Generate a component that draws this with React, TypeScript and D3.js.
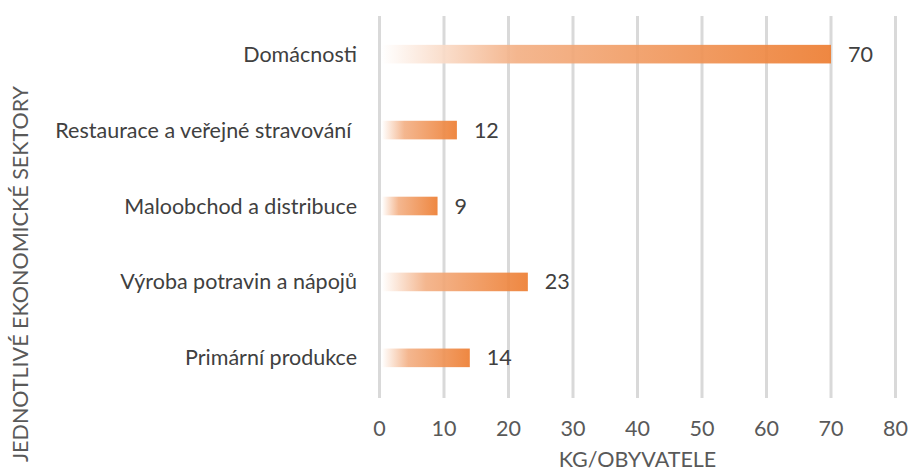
import React, { useEffect, useRef } from 'react';
import * as d3 from 'd3';

const categories = [
  'Domácnosti',
  'Restaurace a veřejné stravování ',
  'Maloobchod a distribuce',
  'Výroba potravin a nápojů',
  'Primární produkce',
];
const values = [70, 12, 9, 23, 14];
const xTicks = [0, 10, 20, 30, 40, 50, 60, 70, 80];
const xTitle = 'KG/OBYVATELE';
const yTitle = 'JEDNOTLIVÉ EKONOMICKÉ SEKTORY';

const FONT = 'Lato, "Open Sans", sans-serif';
const FS = 21.5;

const App: React.FC = () => {
  const svgRef = useRef<SVGSVGElement>(null);

  useEffect(() => {
    if (!svgRef.current) return;
    const width = 910;
    const height = 473;
    const svg = d3.select(svgRef.current)
      .attr('width', width)
      .attr('height', height);
    svg.selectAll('*').remove();

    const left = 379.5;
    const right = 895.5;
    const top = 16;
    const bottom = 398;

    const x = d3.scaleLinear().domain([0, 80]).range([left, right]);
    const y = d3.scaleBand<string>()
      .domain(categories)
      .range([16, 396])
      .paddingInner(0.755)
      .paddingOuter(0.38);

    const defs = svg.append('defs');
    const grad = defs.append('linearGradient')
      .attr('id', 'barGrad')
      .attr('x1', '0%').attr('x2', '100%')
      .attr('y1', '0%').attr('y2', '0%');
    grad.append('stop').attr('offset', '0%').attr('stop-color', '#ffffff');
    grad.append('stop').attr('offset', '30%').attr('stop-color', '#F3B085');
    grad.append('stop').attr('offset', '100%').attr('stop-color', '#ED7D31');

    // gridlines
    svg.append('g')
      .selectAll('line')
      .data(xTicks)
      .enter()
      .append('line')
      .attr('x1', d => x(d))
      .attr('x2', d => x(d))
      .attr('y1', top)
      .attr('y2', bottom)
      .attr('stroke', '#D9D9D9')
      .attr('stroke-width', 3);

    // bars
    svg.append('g')
      .selectAll('rect')
      .data(values)
      .enter()
      .append('rect')
      .attr('x', x(0) + 2.5)
      .attr('y', (d, i) => y(categories[i])!)
      .attr('width', d => x(d) - x(0) - 2.5)
      .attr('height', y.bandwidth())
      .attr('fill', 'url(#barGrad)')
      .attr('opacity', 0.92);

    // value labels
    svg.append('g')
      .selectAll('text')
      .data(values)
      .enter()
      .append('text')
      .attr('x', d => x(d) + 17)
      .attr('y', (d, i) => y(categories[i])! + y.bandwidth() / 2)
      .attr('dy', '0.35em')
      .attr('font-family', FONT)
      .attr('font-size', FS)
      .attr('fill', '#404040')
      .text(d => d);

    // category labels
    svg.append('g')
      .selectAll('text')
      .data(categories)
      .enter()
      .append('text')
      .attr('x', 357)
      .attr('y', d => y(d)! + y.bandwidth() / 2)
      .attr('dy', '0.35em')
      .attr('text-anchor', 'end')
      .attr('xml:space', 'preserve')
      .style('white-space', 'pre')
      .attr('font-family', FONT)
      .attr('font-size', FS)
      .attr('fill', '#404040')
      .text(d => d);

    // x tick labels
    svg.append('g')
      .selectAll('text')
      .data(xTicks)
      .enter()
      .append('text')
      .attr('x', d => x(d))
      .attr('y', 428)
      .attr('dy', '0.35em')
      .attr('text-anchor', 'middle')
      .attr('font-family', FONT)
      .attr('font-size', FS)
      .attr('fill', '#595959')
      .text(d => d);

    svg.append('text')
      .attr('x', (left + right) / 2)
      .attr('y', 459)
      .attr('dy', '0.35em')
      .attr('text-anchor', 'middle')
      .attr('font-family', FONT)
      .attr('font-size', FS)
      .attr('fill', '#595959')
      .text(xTitle);

    svg.append('text')
      .attr('transform', 'translate(20, 274) rotate(-90)')
      .attr('dy', '0.35em')
      .attr('text-anchor', 'middle')
      .attr('font-family', FONT)
      .attr('font-size', FS)
      .attr('fill', '#595959')
      .text(yTitle);
  }, []);

  return (
    <div style={{ position: 'absolute', left: 0, top: 0, background: '#fff' }}>
      <svg ref={svgRef} style={{ display: 'block' }} />
    </div>
  );
};

export default App;
